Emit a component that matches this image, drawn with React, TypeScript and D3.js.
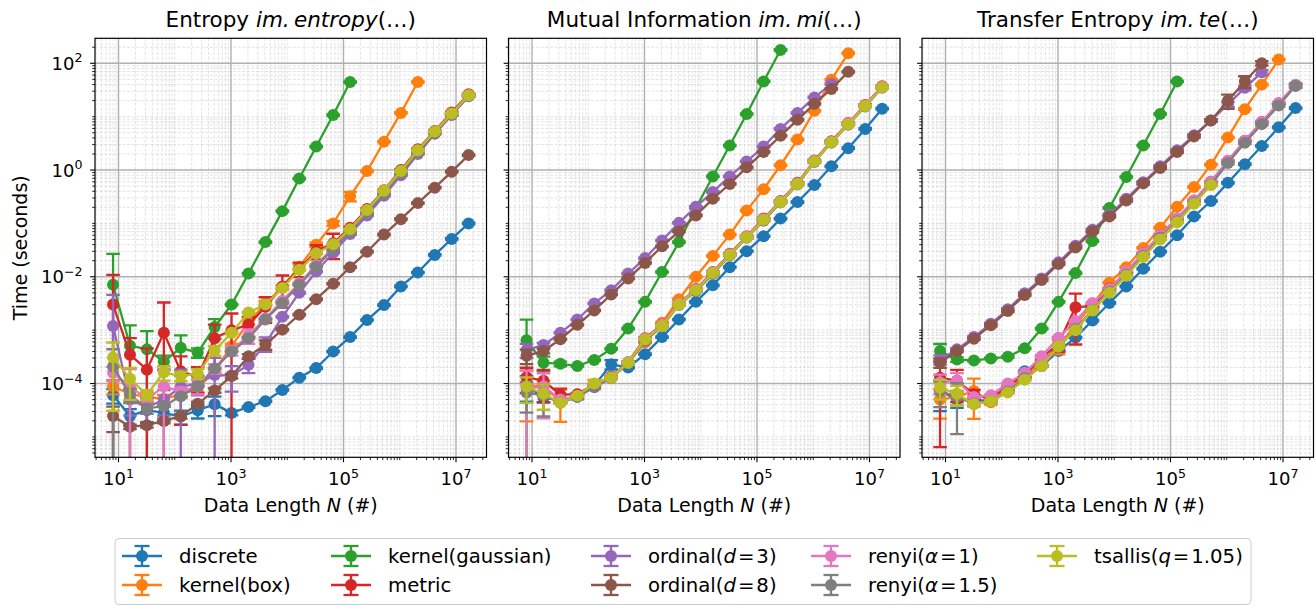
import React from "react";
import * as d3 from "d3";

// Data lengths N = 2^3 ... 2^24
const dataLengths = [
  8, 16, 32, 64, 128, 256, 512, 1024, 2048, 4096, 8192, 16384, 32768, 65536,
  131072, 262144, 524288, 1048576, 2097152, 4194304, 8388608, 16777216,
];

// underscores mark the italic (math) part of a label
const seriesLabels = [
  "discrete", "kernel(box)", "kernel(gaussian)", "metric",
  "ordinal(_d_\u200A=\u200A3)", "ordinal(_d_\u200A=\u200A8)", "renyi(_α_\u200A=\u200A1)", "renyi(_α_\u200A=\u200A1.5)", "tsallis(_q_\u200A=\u200A1.05)",
];

const panelTitles = [
  "Entropy _im.\u2009entropy_(…)",
  "Mutual Information _im.\u2009mi_(…)",
  "Transfer Entropy _im.\u2009te_(…)",
];

// log10(time in seconds), one row per estimator (null = not run)
const entropyLog10 = [
  [-4.22, -4.61, -4.50, -4.55, -4.62, -4.50, -4.39, -4.55, -4.44, -4.33, -4.12, -3.89, -3.71, -3.40, -3.13, -2.81, -2.53, -2.18, -1.92, -1.59, -1.29, -1.00],
  [-4.05, -4.20, -4.25, -4.29, -4.20, -4.10, -3.75, -3.30, -2.85, -2.50, -2.20, -1.81, -1.40, -1.00, -0.49, -0.02, 0.53, 1.07, 1.65, null, null, null],
  [-2.15, -3.29, -3.36, -3.59, -3.33, -3.42, -2.94, -2.52, -1.94, -1.35, -0.77, -0.16, 0.44, 1.03, 1.65, null, null, null, null, null, null, null],
  [-2.52, -3.46, -3.74, -3.05, -3.77, -3.87, -3.15, -3.00, -2.90, -2.56, -2.18, -1.85, -1.52, -1.37, -1.08, -0.73, -0.38, 0.00, 0.39, 0.73, 1.08, 1.42],
  [-2.92, -4.30, -4.45, -4.30, -4.06, -4.00, -3.84, -3.85, -3.65, -3.25, -2.75, -2.30, -1.90, -1.55, -1.20, -0.85, -0.48, -0.10, 0.30, 0.68, 1.03, 1.38],
  [-4.61, -4.81, -4.78, -4.70, -4.61, -4.38, -4.13, -3.86, -3.49, -3.27, -2.99, -2.71, -2.42, -2.13, -1.82, -1.53, -1.21, -0.92, -0.62, -0.33, -0.03, 0.28],
  [-3.80, -4.05, -4.30, -4.05, -4.15, -4.05, -3.72, -3.38, -3.10, -2.78, -2.45, -2.12, -1.78, -1.45, -1.12, -0.77, -0.42, -0.04, 0.36, 0.70, 1.05, 1.40],
  [-3.68, -4.21, -4.47, -4.42, -4.24, -4.05, -3.72, -3.40, -3.15, -2.80, -2.49, -2.15, -1.81, -1.48, -1.15, -0.80, -0.45, -0.06, 0.32, 0.69, 1.04, 1.39],
  [-3.51, -3.91, -4.21, -3.79, -3.86, -3.81, -3.38, -3.05, -2.67, -2.52, -2.21, -1.87, -1.56, -1.39, -1.11, -0.75, -0.39, -0.02, 0.37, 0.72, 1.06, 1.40],
];

const mutualLog10 = [
  [-4.04, -4.26, -4.32, -4.25, -4.04, -3.64, -3.70, -3.45, -3.13, -2.80, -2.47, -2.16, -1.82, -1.52, -1.24, -0.91, -0.60, -0.28, 0.07, 0.41, 0.77, 1.15],
  [-4.01, -4.07, -4.32, -4.23, -4.01, -3.89, -3.61, -3.23, -2.86, -2.42, -2.00, -1.61, -1.21, -0.76, -0.36, 0.09, 0.57, 1.11, 1.69, 2.19, null, null],
  [-3.19, -3.61, -3.63, -3.67, -3.56, -3.35, -2.97, -2.47, -1.91, -1.35, -0.71, -0.12, 0.46, 1.05, 1.66, 2.25, null, null, null, null, null, null],
  [-3.88, -3.95, -4.21, -4.20, -4.02, -3.87, -3.60, -3.15, -2.90, -2.50, -2.23, -1.91, -1.57, -1.24, -0.91, -0.58, -0.24, 0.18, 0.54, 0.88, 1.22, 1.57],
  [-3.37, -3.28, -3.05, -2.80, -2.50, -2.25, -1.94, -1.65, -1.32, -0.99, -0.69, -0.41, -0.12, 0.16, 0.44, 0.77, 1.07, 1.36, 1.61, null, null, null],
  [-3.48, -3.39, -3.17, -2.90, -2.63, -2.33, -2.03, -1.74, -1.43, -1.15, -0.85, -0.54, -0.26, 0.05, 0.34, 0.64, 0.94, 1.24, 1.52, 1.84, null, null],
  [-4.10, -4.05, -4.30, -4.24, -4.03, -3.88, -3.60, -3.16, -2.90, -2.50, -2.24, -1.92, -1.58, -1.25, -0.92, -0.59, -0.25, 0.17, 0.53, 0.87, 1.21, 1.56],
  [-4.17, -4.22, -4.36, -4.25, -4.07, -3.90, -3.62, -3.20, -2.93, -2.53, -2.27, -1.95, -1.60, -1.27, -0.95, -0.61, -0.27, 0.15, 0.51, 0.85, 1.19, 1.54],
  [-4.06, -4.19, -4.36, -4.23, -4.00, -3.89, -3.61, -3.17, -2.92, -2.52, -2.25, -1.93, -1.59, -1.26, -0.93, -0.60, -0.26, 0.16, 0.52, 0.86, 1.20, 1.55],
];

const transferLog10 = [
  [-4.14, -4.30, -4.30, -4.33, -4.14, -3.77, -3.67, -3.39, -3.14, -2.82, -2.49, -2.18, -1.85, -1.53, -1.22, -0.87, -0.58, -0.24, 0.11, 0.45, 0.80, 1.16],
  [-4.30, -4.25, -4.14, -4.35, -4.10, -3.85, -3.60, -3.30, -2.90, -2.52, -2.11, -1.82, -1.46, -1.08, -0.69, -0.32, 0.10, 0.61, 1.14, 1.60, 2.07, null],
  [-3.39, -3.55, -3.57, -3.53, -3.50, -3.34, -2.97, -2.47, -1.93, -1.33, -0.71, -0.13, 0.46, 1.05, 1.66, null, null, null, null, null, null, null],
  [-3.89, -3.95, -4.20, -4.28, -4.05, -3.83, -3.52, -3.25, -2.57, -2.55, -2.22, -1.92, -1.56, -1.22, -0.91, -0.57, -0.22, 0.17, 0.55, 0.90, 1.25, 1.58],
  [-3.55, -3.36, -3.13, -2.88, -2.61, -2.31, -2.03, -1.73, -1.42, -1.12, -0.84, -0.54, -0.23, 0.07, 0.37, 0.65, 0.93, 1.23, 1.54, 1.83, null, null],
  [-3.61, -3.39, -3.16, -2.91, -2.64, -2.34, -2.06, -1.76, -1.45, -1.15, -0.87, -0.57, -0.25, 0.04, 0.34, 0.63, 0.93, 1.30, 1.66, 2.00, null, null],
  [-3.98, -3.95, -4.25, -4.22, -4.00, -3.80, -3.49, -3.14, -2.83, -2.49, -2.23, -1.90, -1.56, -1.22, -0.91, -0.57, -0.22, 0.17, 0.55, 0.90, 1.25, 1.60],
  [-4.14, -4.25, -4.38, -4.33, -4.15, -3.90, -3.67, -3.32, -2.98, -2.62, -2.28, -1.96, -1.61, -1.27, -0.96, -0.62, -0.27, 0.13, 0.51, 0.86, 1.21, 1.58],
  [-4.08, -4.19, -4.39, -4.33, -4.17, -3.93, -3.67, -3.30, -3.00, -2.63, -2.30, -1.98, -1.63, -1.30, -0.98, -0.63, -0.28, null, null, null, null, null],
];

// std / mean for the first points; later points have tiny spread
const entropyRelErr = [
  [0.3, 0.35, 0.4, 0.3, 0.3, 0.3, 0.4, 0.1],
  [0.3, 0.25, 0.2, 0.2, 0.15, 0.15, 0.1, 0.1, 0.1, 0.1, 0.1, 0.1, 0.1, 0.1, 0.2],
  [2.8, 1.4, 1.2, 0.3, 0.7, 0.2, 0.4],
  [2.6, 1.05, 1.5, 2.7, 0.9, 0.5, 0.8, 1.05, 0.4, 0.5, 0.6, 0.3, 0.3, 0.5],
  [2.8, 0.5, 0.5, 0.5, 1.1, 0.4, 1.1, 0.5, 0.3, 0.3],
  [0.5, 0.1, 0.1, 0.1, 0.1, 0.1, 0.1, 0.1, 0.1, 0.2],
  [0.3, 1.1, 0.2, 1.1, 0.2, 0.3, 0.2, 0.2, 0.3],
  [1.1, 0.3, 0.2],
  [0.9, 0.6, 0.2, 0.3, 0.2, 0.2, 0.2],
];

const mutualRelErr = [
  [0.5, 0.2, 0.1, 0.1, 0.1, 0.2],
  [0.8, 0.3, 0.6, 0.1, 0.2],
  [1.45, 0.3, 0.1],
  [0.5, 0.6, 0.3],
  [0.3, 0.1],
  [0.3, 0.1],
  [1.2, 0.75],
  [0.58, 0.6],
  [0.5, 0.5],
];

const transferRelErr = [
  [0.58, 0.3],
  [0.56, 0.3, 0.7, 0.1, 0.1, 0.1, 0.1, 0.3],
  [0.35, 0.1],
  [0.95, 0.6, 0.2, 0.1, 0.1, 0.1, 0.1, 0.3, 0.8],
  [0.2, 0.05, 0.05, 0.05, 0.05, 0.05, 0.05, 0.05, 0.05, 0.05, 0.05, 0.05, 0.05, 0.05, 0.05, 0.05, 0.05, 0.1, 0.1, 0.1],
  [0.2, 0.05, 0.05, 0.05, 0.05, 0.05, 0.05, 0.05, 0.05, 0.05, 0.05, 0.05, 0.05, 0.05, 0.05, 0.05, 0.05, 0.3, 0.25, 0.1],
  [0.4, 0.4],
  [0.5, 0.8, 0.1, 0.05, 0.05, 0.05, 0.05, 0.05, 0.05, 0.05, 0.05, 0.05, 0.05, 0.05, 0.05, 0.05, 0.05, 0.05, 0.05, 0.05, 0.05, 0.1],
  [0.4, 0.4],
];

const panelTimes = [entropyLog10, mutualLog10, transferLog10];
const panelErrs = [entropyRelErr, mutualRelErr, transferRelErr];

const xMajor = [1e1, 1e3, 1e5, 1e7];
const xMajorExp = ["1", "3", "5", "7"];
const yMajor = [1e2, 1, 1e-2, 1e-4];
const yMajorExp = ["2", "0", "\u22122", "\u22124"];

// layout
const W = 1315, H = 607;
const panelLeft = [95, 508.5, 922];
const panelW = 391.5;
const top = 38.3, bottom = 457.3;
const xLog = [0.5822, 7.5422];
const yLog = [-5.382, 2.468];
const FONT = "DejaVu Sans, sans-serif";
const colors = d3.schemeCategory10;
const MR = 6; // marker radius
const CAP = 6.8; // cap half width
const LW = 2.3;
const legendHandleX = [122, 331, 591, 811, 1037];

function Label({ text }: { text: string }) {
  return (
    <>
      {text.split("_").map((p, i) => (
        <tspan key={i} fontStyle={i % 2 ? "italic" : "normal"}>{p}</tspan>
      ))}
    </>
  );
}

function minorTicks(lo: number, hi: number, majors: number[]) {
  const out: number[] = [];
  for (let d = Math.floor(lo) - 1; d <= Math.ceil(hi); d++) {
    for (let s = 1; s < 10; s++) {
      const v = s * Math.pow(10, d);
      const l = Math.log10(v);
      if (l < lo || l > hi) continue;
      if (majors.some((m) => Math.abs(m - v) / m < 1e-9)) continue;
      out.push(v);
    }
  }
  return out;
}

function Panel({ idx }: { idx: number }) {
  const left = panelLeft[idx];
  const x = d3.scaleLog().domain([10 ** xLog[0], 10 ** xLog[1]]).range([left, left + panelW]);
  const y = d3.scaleLog().domain([10 ** yLog[0], 10 ** yLog[1]]).range([bottom, top]);
  const xMinor = minorTicks(xLog[0], xLog[1], xMajor);
  const yMinor = minorTicks(yLog[0], yLog[1], yMajor);
  const times = panelTimes[idx];
  const errs = panelErrs[idx];
  const clipId = `clip-${idx}`;
  const line = d3
    .line<[number, number | null]>()
    .defined((d) => d[1] != null)
    .x((d) => x(d[0]))
    .y((d) => y(Math.pow(10, d[1] as number)));

  return (
    <g>
      <defs>
        <clipPath id={clipId}>
          <rect x={left} y={top} width={panelW} height={bottom - top} />
        </clipPath>
      </defs>
      <rect x={left} y={top} width={panelW} height={bottom - top} fill="white" />
      {/* minor grid */}
      <g stroke="#b0b0b0" strokeOpacity={0.45} strokeWidth={0.8} strokeDasharray="3,1.6">
        {xMinor.map((v, i) => (
          <line key={"xm" + i} x1={x(v)} x2={x(v)} y1={top} y2={bottom} />
        ))}
        {yMinor.map((v, i) => (
          <line key={"ym" + i} x1={left} x2={left + panelW} y1={y(v)} y2={y(v)} />
        ))}
      </g>
      {/* major grid */}
      <g stroke="#b0b0b0" strokeWidth={1.4}>
        {xMajor.map((v, i) => (
          <line key={"xM" + i} x1={x(v)} x2={x(v)} y1={top} y2={bottom} />
        ))}
        {yMajor.map((v, i) => (
          <line key={"yM" + i} x1={left} x2={left + panelW} y1={y(v)} y2={y(v)} />
        ))}
      </g>
      <g clipPath={`url(#${clipId})`}>
        {times.map((row, s) => {
          const pts = dataLengths.map((n, j) => [n, row[j]] as [number, number | null]);
          const c = colors[s];
          return (
            <g key={s}>
              {pts.map(([n, v], j) => {
                if (v == null) return null;
                const t = Math.pow(10, v);
                const e = (errs[s][j] ?? 0.03) * t;
                const px = x(n);
                const yHi = y(t + e);
                const yLo = t - e > 0 ? y(t - e) : bottom + 30;
                return (
                  <g key={j} stroke={c} strokeWidth={LW}>
                    <line x1={px} x2={px} y1={yHi} y2={yLo} />
                    <line x1={px - CAP} x2={px + CAP} y1={yHi} y2={yHi} />
                    <line x1={px - CAP} x2={px + CAP} y1={yLo} y2={yLo} />
                  </g>
                );
              })}
              <path d={line(pts) || ""} fill="none" stroke={c} strokeWidth={LW} />
              {pts.map(([n, v], j) =>
                v == null ? null : (
                  <circle key={"m" + j} cx={x(n)} cy={y(Math.pow(10, v))} r={MR} fill={c} />
                )
              )}
            </g>
          );
        })}
      </g>
      {/* spines */}
      <rect x={left} y={top} width={panelW} height={bottom - top} fill="none" stroke="black" strokeWidth={1.2} />
      {/* ticks */}
      <g stroke="black">
        {xMajor.map((v, i) => (
          <line key={"xt" + i} x1={x(v)} x2={x(v)} y1={bottom} y2={bottom + 4.9} strokeWidth={1.1} />
        ))}
        {xMinor.map((v, i) => (
          <line key={"xmt" + i} x1={x(v)} x2={x(v)} y1={bottom} y2={bottom + 2.8} strokeWidth={0.85} />
        ))}
        {yMajor.map((v, i) => (
          <line key={"yt" + i} x1={left - 4.9} x2={left} y1={y(v)} y2={y(v)} strokeWidth={1.1} />
        ))}
        {yMinor.map((v, i) => (
          <line key={"ymt" + i} x1={left - 2.8} x2={left} y1={y(v)} y2={y(v)} strokeWidth={0.85} />
        ))}
      </g>
      {/* tick labels */}
      <g fontFamily={FONT} fontSize={18} fill="black">
        {xMajor.map((v, i) => (
          <text key={"xl" + i} x={x(v)} y={485} textAnchor="middle">
            10<tspan dy={-7.5} fontSize={12.6}>{xMajorExp[i]}</tspan>
          </text>
        ))}
        {idx === 0 &&
          yMajor.map((v, i) => (
            <text key={"yl" + i} x={left - 12.5} y={y(v) + 6.6} textAnchor="end">
              10<tspan dy={-7.5} fontSize={12.6}>{yMajorExp[i]}</tspan>
            </text>
          ))}
      </g>
      <text x={left + panelW / 2} y={512} textAnchor="middle" fontFamily={FONT} fontSize={19}>
        <Label text="Data Length _N_ (#)" />
      </text>
      <text x={left + panelW / 2} y={27} textAnchor="middle" fontFamily={FONT} fontSize={21.5}>
        <Label text={panelTitles[idx]} />
      </text>
    </g>
  );
}

function Legend() {
  return (
    <g fontFamily={FONT} fontSize={19.7}>
      <rect x={115} y={538.5} width={1136} height={66} rx={4} fill="white" fillOpacity={0.8} stroke="#cccccc" strokeWidth={1} />
      {seriesLabels.map((lab, i) => {
        const c = Math.floor(i / 2);
        const r = i % 2;
        const x0 = legendHandleX[c];
        const cy = 556 + r * 29;
        const mid = x0 + 20;
        const col = colors[i];
        return (
          <g key={i}>
            <g stroke={col} strokeWidth={LW}>
              <line x1={x0} x2={x0 + 40} y1={cy} y2={cy} />
              <line x1={mid} x2={mid} y1={cy - 10} y2={cy + 10} />
              <line x1={mid - 7.5} x2={mid + 7.5} y1={cy - 10} y2={cy - 10} />
              <line x1={mid - 7.5} x2={mid + 7.5} y1={cy + 10} y2={cy + 10} />
            </g>
            <circle cx={mid} cy={cy} r={MR} fill={col} />
            <text x={x0 + 57} y={cy + 7}>
              <Label text={lab} />
            </text>
          </g>
        );
      })}
    </g>
  );
}

export default function App() {
  return (
    <div style={{ position: "absolute", left: 0, top: 0 }}>
      <svg width={W} height={H} viewBox={`0 0 ${W} ${H}`} style={{ display: "block", background: "white" }}>
        {[0, 1, 2].map((i) => (
          <Panel key={i} idx={i} />
        ))}
        <text
          transform={`translate(27, ${(top + bottom) / 2}) rotate(-90)`}
          textAnchor="middle"
          fontFamily={FONT}
          fontSize={19}
        >
          Time (seconds)
        </text>
        <Legend />
      </svg>
    </div>
  );
}
